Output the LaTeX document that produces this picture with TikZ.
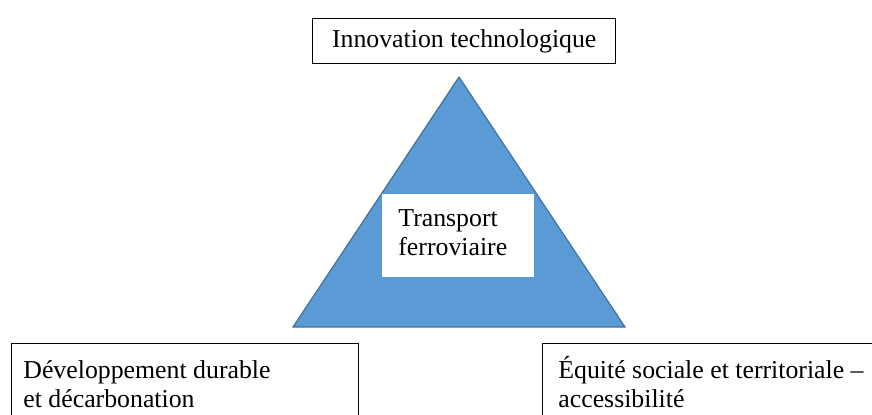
\documentclass[tikz,border=0pt]{standalone}
\usepackage{fontspec}
\setmainfont{Liberation Serif}
\definecolor{triFill}{HTML}{5B9BD5}
\definecolor{triLine}{HTML}{41719C}
\tikzset{
  txt/.style={font=\fontsize{12.9}{14.5}\selectfont, inner sep=0pt, align=left, anchor=base west},
  frame/.style={draw=black, line width=0.7pt, fill=white, anchor=north west, inner sep=0pt},
  tri/.style={fill=triFill, draw=triLine, line width=0.6pt},
}
\begin{document}
\begin{tikzpicture}[x=0.5pt,y=-0.5pt]
\useasboundingbox (0,0) rectangle (872,414);
% top box
\node[frame, minimum width=151.5pt, minimum height=22.5pt, font=\fontsize{12.9}{14.5}\selectfont] (innov) at (312,18) {Innovation technologique};
% triangle
\coordinate (apex) at (459,77);
\coordinate (bl) at (293,327);
\coordinate (br) at (625,327);
\draw[tri] (apex) -- (bl) -- (br) -- cycle;
% centre box
\node[fill=white, anchor=north west, inner sep=0pt, minimum width=76pt, minimum height=41.5pt] (railbox) at (382,194) {};
\node[txt] (rail) at (398,255) {Transport\\ferroviaire};
% bottom boxes
\node[frame, minimum width=173.5pt, minimum height=40pt] (devbox) at (11,343) {};
\node[txt] (dev) at (23,407) {Développement durable\\et décarbonation};
\node[frame, minimum width=180pt, minimum height=40pt] (equbox) at (542,343) {};
\node[txt] (equ) at (558,407) {Équité sociale et territoriale –\\accessibilité};
\end{tikzpicture}
\end{document}
